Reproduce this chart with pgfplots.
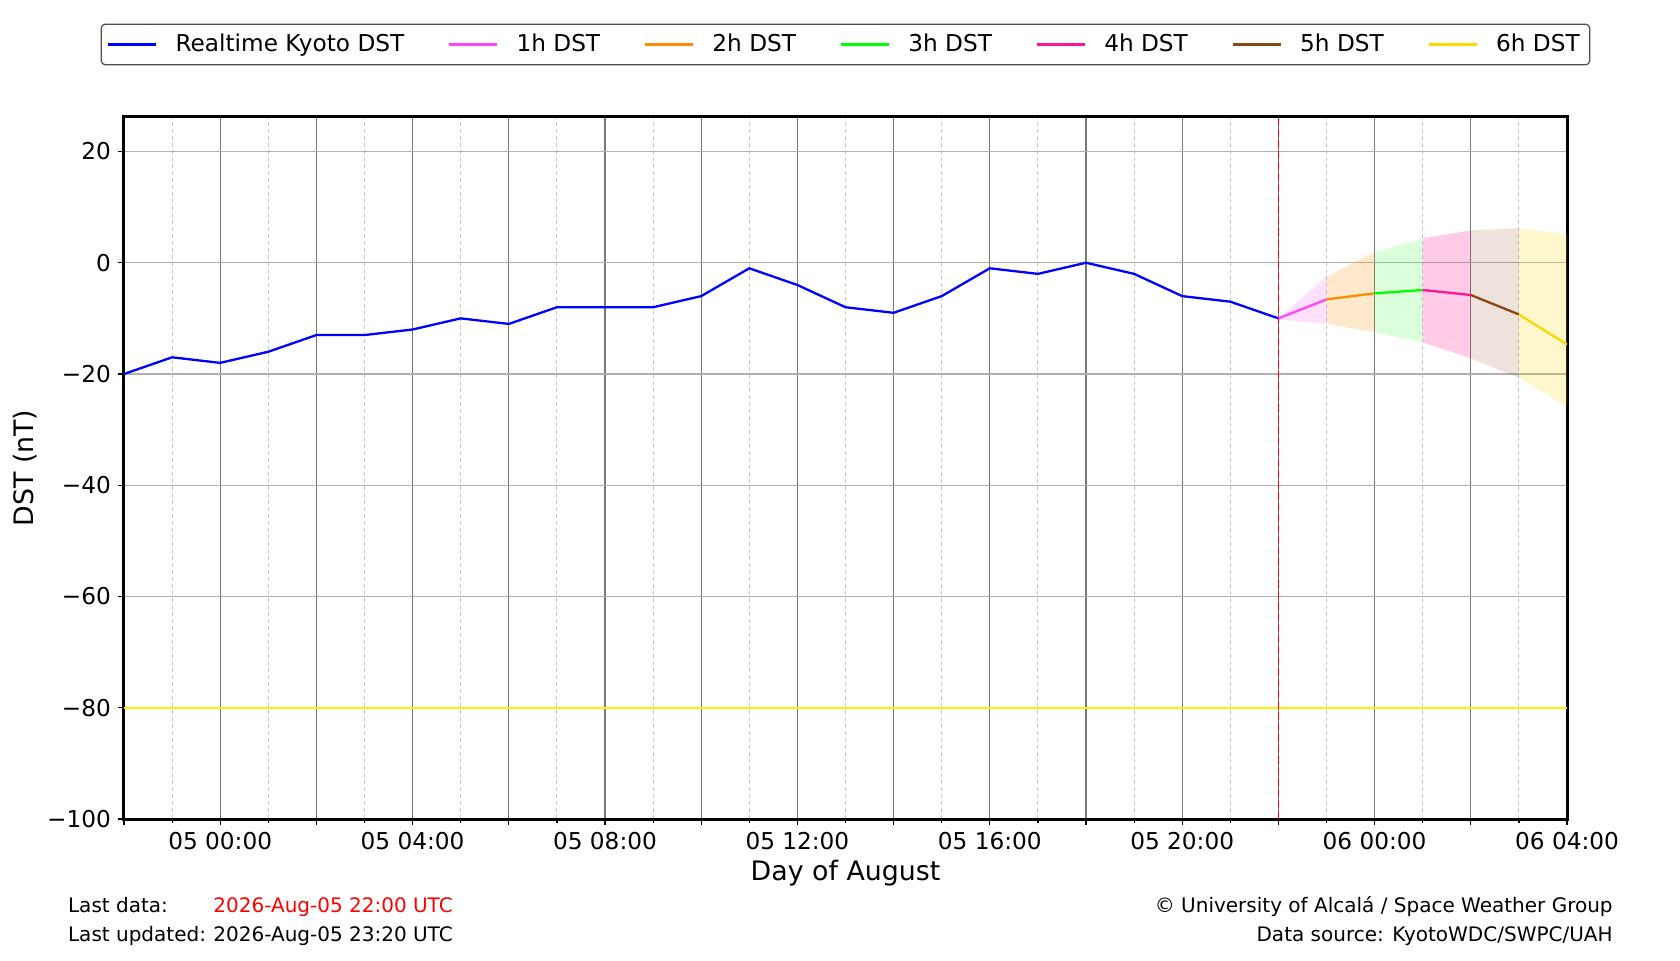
\documentclass[border=0pt]{standalone}
\usepackage{pgfplots}
\pgfplotsset{compat=1.18}
\usepackage{fontspec}
\setmainfont{DejaVu Sans}
\definecolor{c0}{RGB}{0,0,255}
\definecolor{c1h}{RGB}{255,68,255}
\definecolor{c2h}{RGB}{255,140,0}
\definecolor{c3h}{RGB}{0,255,0}
\definecolor{c4h}{RGB}{255,20,147}
\definecolor{c5h}{RGB}{139,69,19}
\definecolor{c6h}{RGB}{255,215,0}
\definecolor{gxmaj}{RGB}{120,120,120}
\definecolor{gymaj}{RGB}{176,176,176}
\definecolor{gmin}{RGB}{200,200,200}
\pgfplotstableread{
x y
-2 -20
-1 -17
0 -18
1 -16
2 -13
3 -13
4 -12
5 -10
6 -11
7 -8
8 -8
9 -8
10 -6
11 -1
12 -4
13 -8
14 -9
15 -6
16 -1
17 -2
18 0
19 -2
20 -6
21 -7
22 -10
}\realtime
\begin{document}
\begin{tikzpicture}
\useasboundingbox (0,0) rectangle (840pt,480pt);
\begin{axis}[
  at={(62pt,70.5pt)}, anchor=south west,
  scale only axis, width=721.5pt, height=351pt,
  xmin=-2, xmax=28, ymin=-100, ymax=26.2,
  xtick={-2,0,...,28}, minor xtick={-1,1,...,27},
  xticklabels={,05 00:00,,05 04:00,,05 08:00,,05 12:00,,05 16:00,,05 20:00,,06 00:00,,06 04:00},
  ytick={-100,-80,...,20},
  yticklabels={−100,−80,−60,−40,−20,0,20},
  tick align=outside, tick pos=left,
  major tick length=3pt, minor tick length=1.8pt,
  tick style={black, line width=0.6pt},
  xmajorgrids, xminorgrids, ymajorgrids,
  major grid style={color=gxmaj, line width=0.6pt},
  y grid style={color=gymaj, line width=0.6pt},
  minor grid style={color=gmin, line width=0.45pt, dash pattern=on 2pt off 1.5pt},
  axis line style={line width=1.5pt},
  /pgf/number format/assume math mode=true,
  tick label style={font=\fontsize{11.6}{13}\selectfont},
  every axis x label/.style={at={(rel axis cs:0.5,0)}, yshift=-30.85pt, anchor=base, font=\fontsize{13.4}{15}\selectfont},
  every axis y label/.style={at={(rel axis cs:0,0.5)}, xshift=-49.25pt, rotate=90, anchor=center, font=\fontsize{13.4}{15}\selectfont},
  xlabel={Day of August},
  ylabel={DST (nT)},
  legend columns=7,
  legend image code/.code={\draw[#1] (0pt,0pt) -- (24pt,0pt);},
  legend style={at={(0.5,1.1033)}, anchor=center, draw=black!70, line width=0.6pt,
    rounded corners=2pt, font=\fontsize{11.6}{13}\selectfont,
    inner xsep=3pt, inner ysep=3pt,
    /tikz/every odd column/.append style={column sep=7pt},
    /tikz/every even column/.append style={column sep=20pt}},
]
% forecast uncertainty bands
\addplot[fill=c1h, fill opacity=0.16, draw=none, forget plot] coordinates {(22,-10) (23,-2.5) (23,-11.0) (22,-10.2)} -- cycle;
\addplot[fill=c2h, fill opacity=0.2, draw=none, forget plot] coordinates {(23,-2.5) (24,1.9) (24,-12.5) (23,-11.0)} -- cycle;
\addplot[fill=c3h, fill opacity=0.14, draw=none, forget plot] coordinates {(24,1.9) (25,4.4) (25,-14.3) (24,-12.5)} -- cycle;
\addplot[fill=c4h, fill opacity=0.22, draw=none, forget plot] coordinates {(25,4.4) (26,5.8) (26,-17.2) (25,-14.3)} -- cycle;
\addplot[fill=c5h, fill opacity=0.15, draw=none, forget plot] coordinates {(26,5.8) (27,6.2) (27,-20.7) (26,-17.2)} -- cycle;
\addplot[fill=c6h, fill opacity=0.2, draw=none, forget plot] coordinates {(27,6.2) (28,5.1) (28,-25.8) (27,-20.7)} -- cycle;
% threshold and now line
\addplot[color=yellow, line width=1pt, forget plot] coordinates {(-2,-80) (28,-80)};
\addplot[color=red, line width=0.8pt, dash pattern=on 4pt off 1.5pt, forget plot] coordinates {(22,-100) (22,26.2)};
% series
\addplot[color=c0, line width=1.15pt] table[x=x,y=y] {\realtime};
\addlegendentry{Realtime Kyoto DST}
\addplot[color=c1h, line width=1.15pt] coordinates {(22,-10) (23,-6.6)};
\addlegendentry{1h DST}
\addplot[color=c2h, line width=1.15pt] coordinates {(23,-6.6) (24,-5.5)};
\addlegendentry{2h DST}
\addplot[color=c3h, line width=1.15pt] coordinates {(24,-5.5) (25,-4.9)};
\addlegendentry{3h DST}
\addplot[color=c4h, line width=1.15pt] coordinates {(25,-4.9) (26,-5.8)};
\addlegendentry{4h DST}
\addplot[color=c5h, line width=1.15pt] coordinates {(26,-5.8) (27,-9.3)};
\addlegendentry{5h DST}
\addplot[color=c6h, line width=1.15pt] coordinates {(27,-9.3) (28,-14.7)};
\addlegendentry{6h DST}
\end{axis}
\begin{scope}[every node/.style={inner sep=0pt, font=\fontsize{10}{12}\selectfont}]
\node[anchor=base west] at (33.85pt,24pt) {Last data:};
\node[anchor=base west, text=red] at (106.5pt,24pt) {2026-Aug-05 22:00 UTC};
\node[anchor=base west] at (33.85pt,9.5pt) {Last updated:};
\node[anchor=base west] at (106.5pt,9.5pt) {2026-Aug-05 23:20 UTC};
\node[anchor=base east] at (806.5pt,24pt) {© University of Alcalá / Space Weather Group};
\node[anchor=base east] at (806.5pt,9.5pt) {Data source: KyotoWDC/SWPC/UAH};
\end{scope}
\end{tikzpicture}
\end{document}
